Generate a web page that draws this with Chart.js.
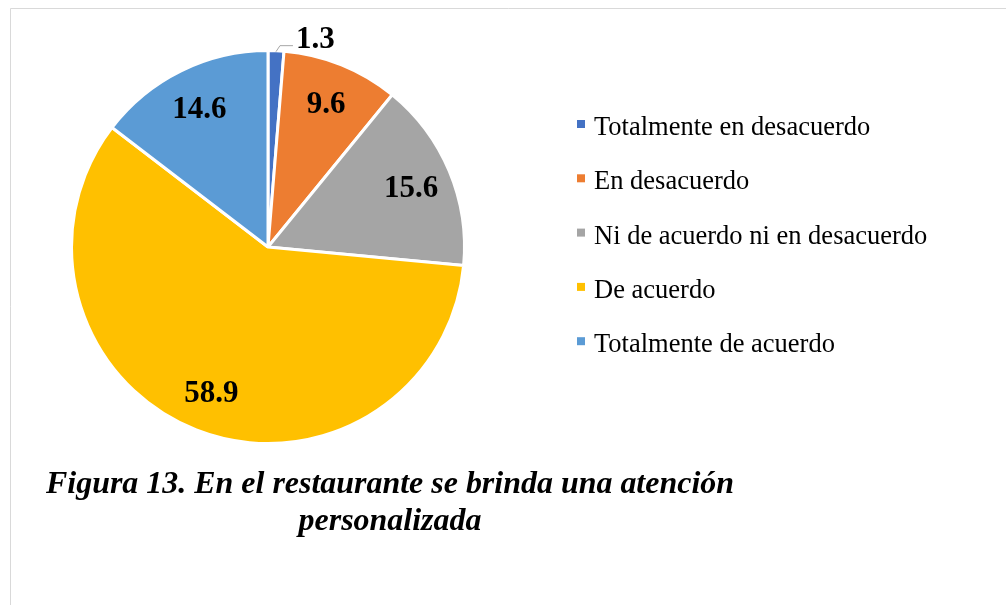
<!DOCTYPE html>
<html>
<head>
<meta charset="utf-8">
<script src="https://cdn.jsdelivr.net/npm/chart.js@4.4.0/dist/chart.umd.min.js"></script>
<style>
html,body{margin:0;padding:0;background:#fff;}
#wrap{position:absolute;left:0;top:0;width:1006px;height:605px;}
</style>
</head>
<body>
<div id="wrap"><canvas id="c" width="1006" height="605"></canvas></div>
<script>
const categories = ["Totalmente en desacuerdo", "En desacuerdo", "Ni de acuerdo ni en desacuerdo", "De acuerdo", "Totalmente de acuerdo"];
const values = [1.3, 9.6, 15.6, 58.9, 14.6];
const colors = ["#4472C4", "#ED7D31", "#A5A5A5", "#FFC000", "#5B9BD5"];
const titleLines = ["Figura 13. En el restaurante se brinda una atención", "personalizada"];

const decorPlugin = {
  id: 'decor',
  beforeDraw(chart) {
    const ctx = chart.ctx;
    ctx.save();
    ctx.fillStyle = '#fff';
    ctx.fillRect(0, 0, chart.width, chart.height);
    ctx.strokeStyle = '#d9d9d9';
    ctx.lineWidth = 1;
    ctx.beginPath();
    ctx.moveTo(10.5, chart.height);
    ctx.lineTo(10.5, 8.5);
    ctx.lineTo(chart.width, 8.5);
    ctx.stroke();
    ctx.restore();
  },
  afterDatasetsDraw(chart) {
    const ctx = chart.ctx;
    const meta = chart.getDatasetMeta(0);
    const data = chart.data.datasets[0].data;
    ctx.save();
    ctx.font = 'bold 31px "Liberation Serif"';
    ctx.fillStyle = '#000';
    meta.data.forEach((arc, i) => {
      const p = arc.getProps(['x', 'y', 'startAngle', 'endAngle', 'outerRadius'], true);
      const mid = (p.startAngle + p.endAngle) / 2;
      const txt = data[i].toFixed(1);
      if (data[i] < 3) {
        const ex = p.x + Math.cos(mid) * (p.outerRadius - 1);
        const ey = p.y + Math.sin(mid) * (p.outerRadius - 1);
        ctx.strokeStyle = '#a6a6a6';
        ctx.lineWidth = 1;
        ctx.beginPath();
        ctx.moveTo(ex, ey);
        ctx.lineTo(ex + 4, ey - 6);
        ctx.lineTo(ex + 17, ey - 6);
        ctx.stroke();
        ctx.textAlign = 'left';
        ctx.textBaseline = 'alphabetic';
        ctx.fillText(txt, ex + 20, ey - 4);
      } else {
        const r = p.outerRadius * 0.79;
        const lx = p.x + Math.cos(mid) * r;
        const ly = p.y + Math.sin(mid) * r;
        ctx.textAlign = 'center';
        ctx.textBaseline = 'middle';
        ctx.fillText(txt, lx, ly + 2);
      }
    });
    ctx.restore();
  },
  afterDraw(chart) {
    const ctx = chart.ctx;
    ctx.save();
    // legend
    const labels = chart.data.labels;
    const bg = chart.data.datasets[0].backgroundColor;
    ctx.font = '26.5px "Liberation Serif"';
    ctx.textAlign = 'left';
    ctx.textBaseline = 'alphabetic';
    labels.forEach((lab, i) => {
      const cy = 124 + i * 54.3;
      ctx.fillStyle = bg[i];
      ctx.fillRect(577, cy - 4, 8, 8);
      ctx.fillStyle = '#000';
      ctx.fillText(lab, 594, cy + 11);
    });
    // title
    ctx.font = 'italic bold 32px "Liberation Serif"';
    ctx.textAlign = 'center';
    ctx.fillStyle = '#000';
    const w0 = ctx.measureText(titleLines[0]).width;
    const sx = Math.min(1, 688 / w0);
    titleLines.forEach((t, i) => {
      ctx.save();
      ctx.translate(390, 493 + i * 37);
      ctx.scale(sx, 1);
      ctx.fillText(t, 0, 0);
      ctx.restore();
    });
    ctx.restore();
  }
};

new Chart(document.getElementById('c'), {
  type: 'pie',
  data: {
    labels: categories,
    datasets: [{
      data: values,
      backgroundColor: colors,
      borderColor: '#ffffff',
      borderWidth: 3
    }]
  },
  options: {
    responsive: false,
    animation: false,
    layout: { padding: { left: 70, top: 49, right: 540, bottom: 160 } },
    plugins: {
      legend: { display: false },
      tooltip: { enabled: false },
      title: { display: false }
    }
  },
  plugins: [decorPlugin]
});
</script>
</body>
</html>
